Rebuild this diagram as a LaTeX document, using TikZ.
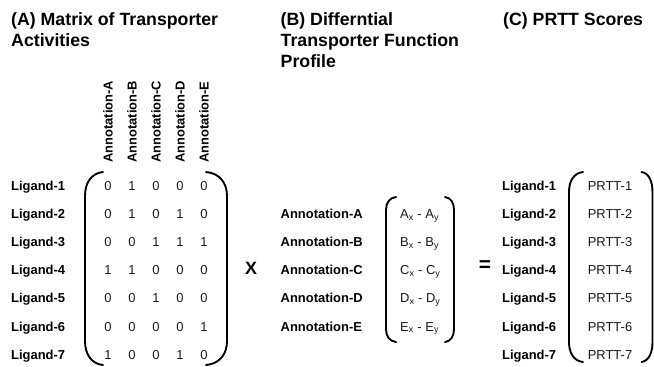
\documentclass[tikz,border=0pt]{standalone}
\usepackage{fontspec}
\setmainfont{Liberation Sans}
\tikzset{
  ttl/.style={font=\bfseries\fontsize{17.8}{21}\selectfont, align=left, anchor=north west, inner sep=0pt},
  lab/.style={font=\bfseries\fontsize{13}{15}\selectfont, anchor=base west, inner sep=0pt},
  num/.style={font=\fontsize{13}{15}\selectfont, text=black!90, anchor=base, inner sep=0pt},
  ent/.style={font=\fontsize{13}{15}\selectfont, text=black!90, anchor=base west, inner sep=0pt},
  brk/.style={line width=1.9pt, line cap=round},
  op/.style={font=\bfseries\fontsize{18}{20}\selectfont, inner sep=0pt}
}
\newcommand\mybrk[5]{%
  \draw[brk] (#1+#4,#2) .. controls (#1+0.35*#4,#2+0.05*#5) and (#1,#2+0.45*#5) .. (#1,#2+#5)
    -- (#1,#3-#5) .. controls (#1,#3-0.45*#5) and (#1+0.35*#4,#3-0.05*#5) .. (#1+#4,#3);}
\begin{document}
\begin{tikzpicture}[x=1bp,y=-1bp]
\useasboundingbox (0,0) rectangle (654,366);
% titles
\node[ttl] (ta) at (11,12.6) {(A) Matrix of Transporter\\Activities};
\node[ttl] (tb) at (280.5,12.6) {(B) Differntial\\Transporter Function\\Profile};
\node[ttl] (tc) at (503,12.6) {(C) PRTT Scores};
% column headers (rotated)
\foreach \L [count=\c] in {A,B,C,D,E}{
  \node[lab, rotate=90] (h\c) at ({112.6+24*(\c-1)},163) {Annotation-\L};
}
% matrix rows
\foreach \r/\row in {1/{0,1,0,0,0},2/{0,1,0,1,0},3/{0,0,1,1,1},4/{1,1,0,0,0},5/{0,0,1,0,0},6/{0,0,0,0,1},7/{1,0,0,1,0}}{
  \pgfmathsetmacro\yb{190.5+28.1*(\r-1)}
  \node[lab] (l\r) at (11,\yb) {Ligand-\r};
  \foreach \v [count=\c] in \row {
    \node[num] (m\r\c) at ({108+24*(\c-1)},\yb) {\v};
  }
  \node[lab] (cl\r) at (502,\yb) {Ligand-\r};
  \node[num] (p\r) at (610,\yb) {PRTT-\r};
}
% profile
\foreach \L [count=\i] in {A,B,C,D,E}{
  \pgfmathsetmacro\yb{190.5+28.1*\i}
  \node[lab] (a\i) at (280.5,\yb) {Annotation-\L};
  \node[ent] (e\i) at (400,\yb) {\L\textsubscript{x} - \L\textsubscript{y}};
}
% operators
\node[op] (times) at (251,268.5) {X};
\node[op, font=\bfseries\fontsize{21}{22}\selectfont] (eq) at (485,266.5) {=};
% brackets
\mybrk{85}{172}{365}{18}{24}
\mybrk{227}{172}{365}{-21}{24}
\mybrk{386}{197}{342}{10}{13}
\mybrk{454}{197}{342}{-9}{13}
\mybrk{569}{172}{362}{14}{20}
\mybrk{652.5}{172}{362}{-11}{20}
\end{tikzpicture}
\end{document}
